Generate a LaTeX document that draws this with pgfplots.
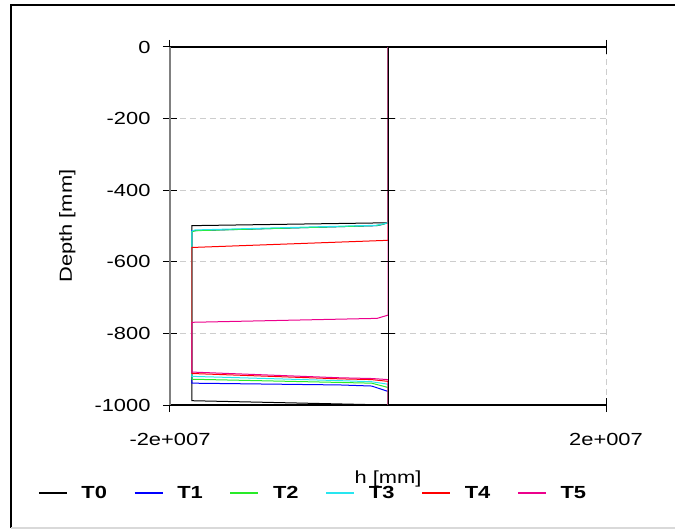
\documentclass[border=0pt]{standalone}
\usepackage{fontspec}
\setmainfont{Liberation Sans}[FakeStretch=1.25]
\usepackage{pgfplots}
\pgfplotsset{compat=1.18}
\newcommand{\fs}{\fontsize{17.5bp}{21bp}\selectfont}
\definecolor{gridgray}{RGB}{205,205,205}
\definecolor{lgreen}{RGB}{40,235,40}
\definecolor{lcyan}{RGB}{40,230,240}
\pgfplotsset{
  leg/.style={legend image code/.code={\draw[color=#1,line width=1.3bp] (0bp,0bp) -- (28bp,0bp);}},
}
\begin{document}
\begin{tikzpicture}
\begin{axis}[
  at={(0,0)}, anchor=south west,
  scale only axis, width=436bp, height=358bp,
  xmin=-2e7, xmax=2e7, ymin=-1000, ymax=0,
  clip=false,
  scaled x ticks=false,
  separate axis lines,
  axis x line*=box, axis y line*=left,
  x axis line style={black,-,line width=1.2bp},
  y axis line style={gray,-,line width=1.2bp},
  xtick={-2e7,2e7}, xticklabels={-2e+007,2e+007},
  ytick={-1000,-800,-600,-400,-200,0},
  yticklabels={-1000,-800,-600,-400,-200,0},
  ytick pos=left,
  tick align=center, major tick length=14bp,
  tick style={black,line width=1bp},
  grid=major,
  major grid style={gridgray,dash pattern=on 6bp off 4bp,line width=0.9bp},
  every tick label/.append style={font=\fs},
  xticklabel style={anchor=base,yshift=-33bp},
  yticklabel style={anchor=east,xshift=-9bp},
  xlabel={h [mm]}, ylabel={Depth [mm]},
  label style={font=\fs},
  xlabel style={at={(axis description cs:0.5,-0.218)},anchor=base},
  ylabel style={at={(axis description cs:-0.2248,0.5)},anchor=base,rotate=0},
  legend style={at={(axis description cs:-0.3028,-0.2458)},anchor=west,
    draw=none,fill=none,inner sep=0pt,
    legend columns=-1,
    nodes={inner sep=0pt,font=\fs\bfseries},
    /tikz/every odd column/.append style={column sep=14bp},
    /tikz/every even column/.append style={column sep=27bp}},
  every axis plot/.append style={line width=1bp},
]
\addplot[black,leg=black] coordinates {(0,0) (0,-491) (-1.8e7,-499) (-1.8e7,-988) (0,-1000)};
\addlegendentry{T0}
\addplot[blue,leg=blue] coordinates {(0,0) (0,-491) (-5.5e5,-496) (-1.0e6,-499) (-1.8e7,-513) (-1.8e7,-939) (-4.4e6,-944) (-1.5e6,-947) (0,-962) (0,-1000)};
\addlegendentry{T1}
\addplot[lgreen,leg=lgreen] coordinates {(0,0) (0,-491) (-6e5,-496) (-1.1e6,-499) (-1.76e7,-513) (-1.8e7,-516) (-1.8e7,-928) (-4.4e6,-937) (-1.5e6,-939) (0,-951) (0,-1000)};
\addlegendentry{T2}
\addplot[lcyan,leg=lcyan] coordinates {(0,0) (0,-491) (-6e5,-495) (-1.1e6,-498) (-1.77e7,-511) (-1.8e7,-514) (-1.8e7,-920) (-4.4e6,-932) (-1.5e6,-935) (0,-942) (0,-1000)};
\addlegendentry{T3}
\addplot[red,leg=red] coordinates {(0,0) (0,-540) (-1.8e7,-560) (-1.8e7,-912) (-4.4e6,-927) (-1.5e6,-929) (0,-934) (0,-1000)};
\addlegendentry{T4}
\addplot[magenta,leg=magenta] coordinates {(0,0) (0,-749) (-1.0e6,-758) (-1.8e7,-769) (-1.8e7,-908) (-4.4e6,-924) (-1.5e6,-926) (0,-929) (0,-1000)};
\addlegendentry{T5}
\end{axis}
\begin{axis}[
  at={(0,0)}, anchor=south west,
  scale only axis, width=436bp, height=358bp,
  xmin=-2e7, xmax=2e7, ymin=-1000, ymax=0,
  axis x line=none, axis y line=middle,
  y axis line style={black,-,line width=1bp},
  ytick={-1000,-800,-600,-400,-200,0}, yticklabels={},
  tick align=center, major tick length=14bp,
  tick style={black,line width=1bp},
]
\end{axis}
\draw[line width=2.5bp] (-159bp,-123bp) -- (-159bp,400bp) -- (505bp,400bp);
\draw[gray!30,line width=1.5bp] (-159bp,-123bp) -- (505bp,-123bp);
\pgfresetboundingbox
\path[use as bounding box] (-170bp,-124bp) rectangle (505bp,405bp);
\end{tikzpicture}
\end{document}
